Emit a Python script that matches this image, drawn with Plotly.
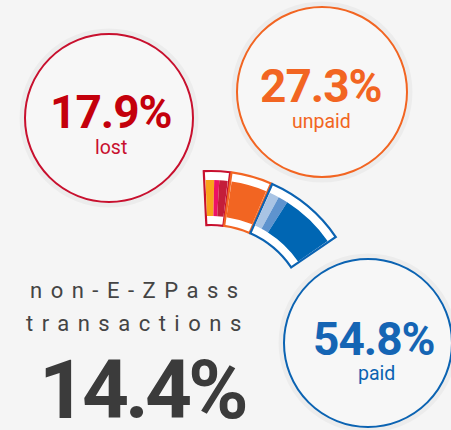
import plotly.graph_objects as go

# data read from the infographic
categories = ["lost", "unpaid", "paid"]
shares = [17.9, 27.3, 54.8]
share_labels = ["17.9%", "27.3%", "54.8%"]
headline_lines = ["non-E-ZPass", "transactions"]
headline_value = "14.4%"
# colour bands inside the "lost" and "paid" pieces (fractions of each piece)
lost_bands = [0.39, 0.23, 0.38]
paid_bands = [0.13, 0.13, 0.74]

W, H = 451, 430
BG = '#f5f5f5'
FONT = 'Roboto, sans-serif'

main_colors = {'lost': '#C8102E', 'unpaid': '#F26522', 'paid': '#0B63B2'}
text_colors = {'lost': '#C4000C', 'unpaid': '#F26522', 'paid': '#1565B4'}
band_colors = {
    'lost': ['#F9A21B', '#EC1265', '#C41E3A'],
    'unpaid': ['#F26522'],
    'paid': ['#A9C4E4', '#5E93CE', '#0066B3'],
}
band_shares = {'lost': lost_bands, 'unpaid': [1.0], 'paid': paid_bands}


def px(x):
    return x / W


def py(y):
    return 1 - y / H


# arc geometry (pixel units, polar centre at (211, 322))
CX, CY, R = 211, 322, 200
ARC_START, ARC_SPAN = 93.0, 59.0
OUT_IN, OUT_OUT = 97, 151
COL_IN, COL_OUT = 106, 142
GAP, PAD = 0.5, 0.55

deg = ARC_SPAN / sum(shares)
starts, widths = [], []
acc = 0.0
for s in shares:
    starts.append(ARC_START - acc * deg)
    widths.append(s * deg)
    acc += s

fig = go.Figure()

# white outlined pieces
fig.add_trace(go.Barpolar(
    r=[OUT_OUT - OUT_IN] * len(shares),
    base=[OUT_IN] * len(shares),
    theta=[st - w / 2 for st, w in zip(starts, widths)],
    width=[w - GAP for w in widths],
    marker=dict(color='white',
                line=dict(color=[main_colors[c] for c in categories], width=2.2)),
    hoverinfo='skip',
))

# coloured bands inside each piece
th, wd, cl = [], [], []
for cat, st, w in zip(categories, starts, widths):
    inner = w - GAP - 2 * PAD
    a = st - GAP / 2 - PAD
    for f, col in zip(band_shares[cat], band_colors[cat]):
        bw = inner * f
        th.append(a - bw / 2)
        wd.append(bw)
        cl.append(col)
        a -= bw
fig.add_trace(go.Barpolar(
    r=[COL_OUT - COL_IN] * len(th),
    base=[COL_IN] * len(th),
    theta=th,
    width=wd,
    marker=dict(color=cl, line=dict(width=0)),
    hoverinfo='skip',
))

# circles
circles = {'lost': (109, 118, 84), 'unpaid': (322, 92, 85), 'paid': (368, 343, 84)}
shapes = []
for cat, (cx, cy, r) in circles.items():
    shapes.append(dict(type='circle', xref='paper', yref='paper', layer='below',
                       x0=px(cx - r - 2), x1=px(cx + r + 2), y0=py(cy + r + 2), y1=py(cy - r - 2),
                       line=dict(color='rgba(0,0,0,0.035)', width=7), fillcolor='rgba(0,0,0,0)'))
    shapes.append(dict(type='circle', xref='paper', yref='paper', layer='below',
                       x0=px(cx - r), x1=px(cx + r), y0=py(cy + r), y1=py(cy - r),
                       line=dict(color=main_colors[cat], width=2), fillcolor='#f7f7f7'))

annotations = []
label_pos = {'lost': ((111, 112), (111, 147)),
             'unpaid': ((321, 86), (321, 122)),
             'paid': ((374, 339), (376, 373))}
for cat, lab in zip(categories, share_labels):
    (x1, y1), (x2, y2) = label_pos[cat]
    annotations.append(dict(
        x=px(x1), y=py(y1), xref='paper', yref='paper', showarrow=False,
        text=f'<span style="letter-spacing:-1px">{lab}</span>',
        font=dict(family=FONT, size=46, color=text_colors[cat], weight='bold'),
        xanchor='center', yanchor='middle'))
    annotations.append(dict(
        x=px(x2), y=py(y2), xref='paper', yref='paper', showarrow=False,
        text=cat,
        font=dict(family=FONT, size=19.5, color=main_colors[cat]),
        xanchor='center', yanchor='middle'))

for line, yy in zip(headline_lines, [290, 323]):
    annotations.append(dict(
        x=px(138), y=py(yy), xref='paper', yref='paper', showarrow=False,
        text=f'<span style="letter-spacing:8.5px">{line}</span>',
        font=dict(family=FONT, size=22, color='#444444'),
        xanchor='center', yanchor='middle'))

annotations.append(dict(
    x=px(142), y=py(390), xref='paper', yref='paper', showarrow=False,
    text=f'<span style="letter-spacing:-4px">{headline_value}</span>',
    font=dict(family=FONT, size=82, color='#3b3b3b', weight='bold'),
    xanchor='center', yanchor='middle'))

fig.update_layout(
    width=W, height=H,
    margin=dict(l=0, r=0, t=0, b=0),
    paper_bgcolor=BG,
    plot_bgcolor=BG,
    showlegend=False,
    polar=dict(
        domain=dict(x=[px(CX - R), px(CX + R)], y=[py(CY), py(CY - R)]),
        sector=[0, 180],
        hole=0,
        bgcolor='rgba(0,0,0,0)',
        radialaxis=dict(range=[0, R], visible=False, showgrid=False),
        angularaxis=dict(visible=False, showgrid=False, rotation=0,
                         direction='counterclockwise'),
    ),
    shapes=shapes,
    annotations=annotations,
)

fig.write_html("out.html", config={'displayModeBar': False},
               post_script="document.body.style.margin='0';")
